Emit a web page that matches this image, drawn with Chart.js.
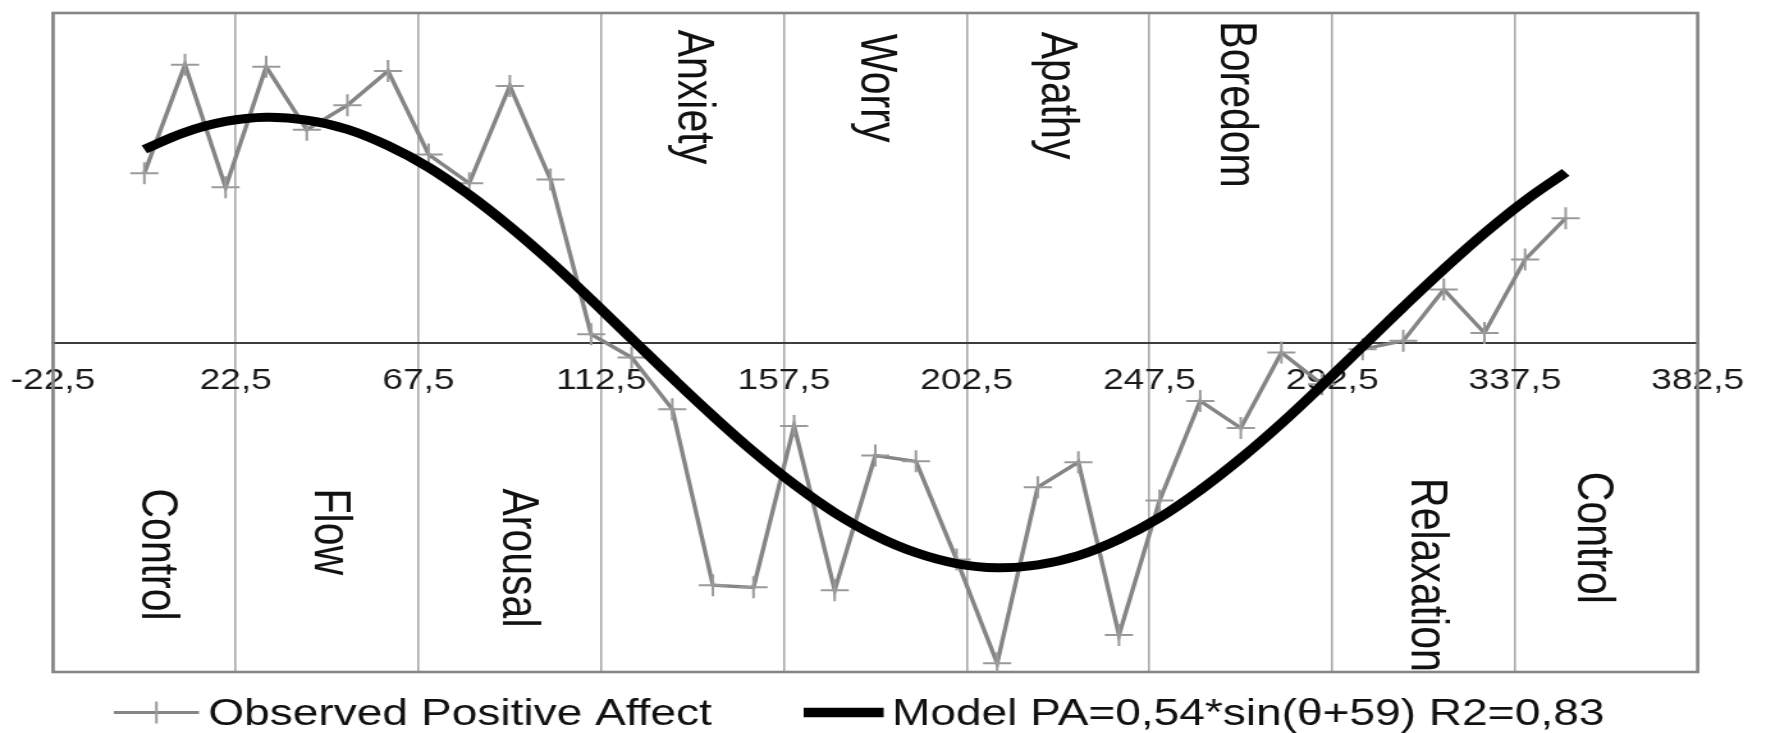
<!DOCTYPE html>
<html>
<head>
<meta charset="utf-8">
<script src="https://cdn.jsdelivr.net/npm/chart.js@4.4.1/dist/chart.umd.min.js"></script>
<style>
html, body { margin: 0; padding: 0; background: #ffffff; width: 1766px; height: 733px; overflow: hidden; }
#wrap { width: 1380px; height: 733px; transform: scaleX(1.2797); transform-origin: 0 0; }
canvas { display: block; }
</style>
</head>
<body>
<div id="wrap"><canvas id="chart" width="1380" height="733"></canvas></div>
<script>
// ---- data ----
const angles = [0, 10, 20, 30, 40, 50, 60, 70, 80, 90, 100, 110, 120, 130, 140, 150, 160, 170,
                180, 190, 200, 210, 220, 230, 240, 250, 260, 270, 280, 290, 300, 310, 320, 330, 340, 350];
const observedPA = [0.406, 0.666, 0.372, 0.661, 0.510, 0.569, 0.651, 0.451, 0.382, 0.615, 0.391, 0.020,
                    -0.036, -0.160, -0.582, -0.587, -0.200, -0.594, -0.271, -0.285, -0.520, -0.769,
                    -0.347, -0.287, -0.701, -0.379, -0.140, -0.205, -0.024, -0.100, -0.016, 0.004,
                    0.127, 0.023, 0.199, 0.298];
const modelPA = [0.463, 0.504, 0.530, 0.540, 0.533, 0.511, 0.472, 0.420, 0.354, 0.278, 0.194, 0.103,
                 0.009, -0.085, -0.176, -0.262, -0.340, -0.408, -0.463, -0.504, -0.530, -0.540,
                 -0.533, -0.511, -0.472, -0.420, -0.354, -0.278, -0.194, -0.103, -0.009, 0.085,
                 0.176, 0.262, 0.340, 0.408];
const tickValues = [-22.5, 22.5, 67.5, 112.5, 157.5, 202.5, 247.5, 292.5, 337.5, 382.5];
const tickLabels = ['-22,5', '22,5', '67,5', '112,5', '157,5', '202,5', '247,5', '292,5', '337,5', '382,5'];
const categoryNames = ['Control', 'Flow', 'Arousal', 'Anxiety', 'Worry', 'Apathy', 'Boredom', 'Relaxation', 'Control'];
const seriesNames = ['Observed Positive Affect', 'Model PA=0,54*sin(\u03B8+59) R2=0,83'];

const FONT = '"Liberation Sans", Arial, Helvetica, sans-serif';

// ---- plugins ----
const framePlugin = {
  id: 'frame',
  beforeDatasetsDraw(chart) {
    const a = chart.chartArea, ctx = chart.ctx;
    ctx.save();
    ctx.strokeStyle = '#858585';
    ctx.lineWidth = 2.6;
    ctx.strokeRect(a.left, a.top, a.right - a.left, a.bottom - a.top);
    ctx.restore();
  }
};

const categoryPlugin = {
  id: 'categories',
  afterDatasetsDraw(chart, args, opts) {
    const ctx = chart.ctx, xs = chart.scales.x, ys = chart.scales.y;
    ctx.save();
    ctx.fillStyle = '#111111';
    ctx.font = opts.size + 'px ' + FONT;
    ctx.textAlign = 'left';
    ctx.textBaseline = 'middle';
    categoryNames.forEach((name, i) => {
      const px = xs.getPixelForValue(opts.anchorX[i]);
      const py = ys.getPixelForValue(opts.anchorY[i]);
      ctx.save();
      ctx.translate(px, py);
      ctx.rotate(Math.PI / 2);
      ctx.fillText(name, 0, 0);
      ctx.restore();
    });
    ctx.restore();
  }
};

const legendPlugin = {
  id: 'bottomLegend',
  afterDraw(chart, args, opts) {
    const ctx = chart.ctx;
    const ds = chart.data.datasets;
    ctx.save();
    ctx.font = opts.size + 'px ' + FONT;
    ctx.fillStyle = '#111111';
    ctx.textBaseline = 'alphabetic';
    ctx.textAlign = 'left';
    opts.items.forEach((it, i) => {
      const d = ds[i];
      ctx.save();
      ctx.strokeStyle = d.borderColor;
      ctx.lineWidth = it.lineWidth;
      ctx.lineCap = 'butt';
      ctx.beginPath();
      ctx.moveTo(it.x0, opts.lineY);
      ctx.lineTo(it.x1, opts.lineY);
      ctx.stroke();
      if (d.pointStyle === 'cross') {
        const cx = (it.x0 + it.x1) / 2;
        ctx.strokeStyle = d.pointBorderColor;
        ctx.lineWidth = d.pointBorderWidth;
        ctx.beginPath();
        ctx.moveTo(cx, opts.lineY - d.pointRadius);
        ctx.lineTo(cx, opts.lineY + d.pointRadius);
        ctx.stroke();
      }
      ctx.restore();
      ctx.fillText(d.label, it.textX, opts.baseY);
    });
    ctx.restore();
  }
};

new Chart(document.getElementById('chart'), {
  type: 'line',
  data: {
    datasets: [
      {
        label: seriesNames[0],
        data: angles.map((a, i) => ({ x: a, y: observedPA[i] })),
        borderColor: '#858585',
        borderWidth: 3.4,
        tension: 0,
        pointStyle: 'cross',
        pointRadius: 11,
        pointBorderColor: '#9a9a9a',
        pointBorderWidth: 2,
        pointBackgroundColor: 'rgba(0,0,0,0)',
        fill: false,
        order: 1
      },
      {
        label: seriesNames[1],
        data: angles.map((a, i) => ({ x: a, y: modelPA[i] })),
        borderColor: '#000000',
        borderWidth: 9,
        tension: 0.4,
        pointRadius: 0,
        fill: false,
        order: 0
      }
    ]
  },
  options: {
    responsive: false,
    animation: false,
    devicePixelRatio: 1,
    events: [],
    layout: { padding: { left: 41.4, right: 53.4, top: 11, bottom: 61 } },
    scales: {
      x: {
        type: 'linear',
        min: -22.5,
        max: 382.5,
        position: { y: 0 },
        afterBuildTicks: (s) => { s.ticks = tickValues.map(v => ({ value: v })); },
        ticks: {
          callback: (v, i) => tickLabels[i],
          font: { family: FONT, size: 29 },
          color: '#1a1a1a',
          padding: 0,
          maxRotation: 0,
          autoSkip: false
        },
        grid: { color: '#a9a9a9', lineWidth: 1.6, drawTicks: true, tickLength: 21, tickColor: 'rgba(0,0,0,0)' },
        border: { color: '#3c3c3c', width: 2 }
      },
      y: { type: 'linear', min: -0.79, max: 0.79, display: false }
    },
    plugins: {
      legend: { display: false },
      tooltip: { enabled: false },
      categories: {
        size: 41,
        anchorX: [3, 45.5, 92, 135, 180, 224.5, 268.5, 315.5, 356.5],
        anchorY: [-0.35, -0.35, -0.35, 0.75, 0.74, 0.745, 0.77, -0.325, -0.31]
      },
      bottomLegend: {
        size: 36,
        lineY: 712.5,
        baseY: 725,
        items: [
          { x0: 89, x1: 155.5, textX: 162.8, lineWidth: 3 },
          { x0: 628, x1: 690.5, textX: 697, lineWidth: 9.5 }
        ]
      }
    }
  },
  plugins: [framePlugin, categoryPlugin, legendPlugin]
});
</script>
</body>
</html>
